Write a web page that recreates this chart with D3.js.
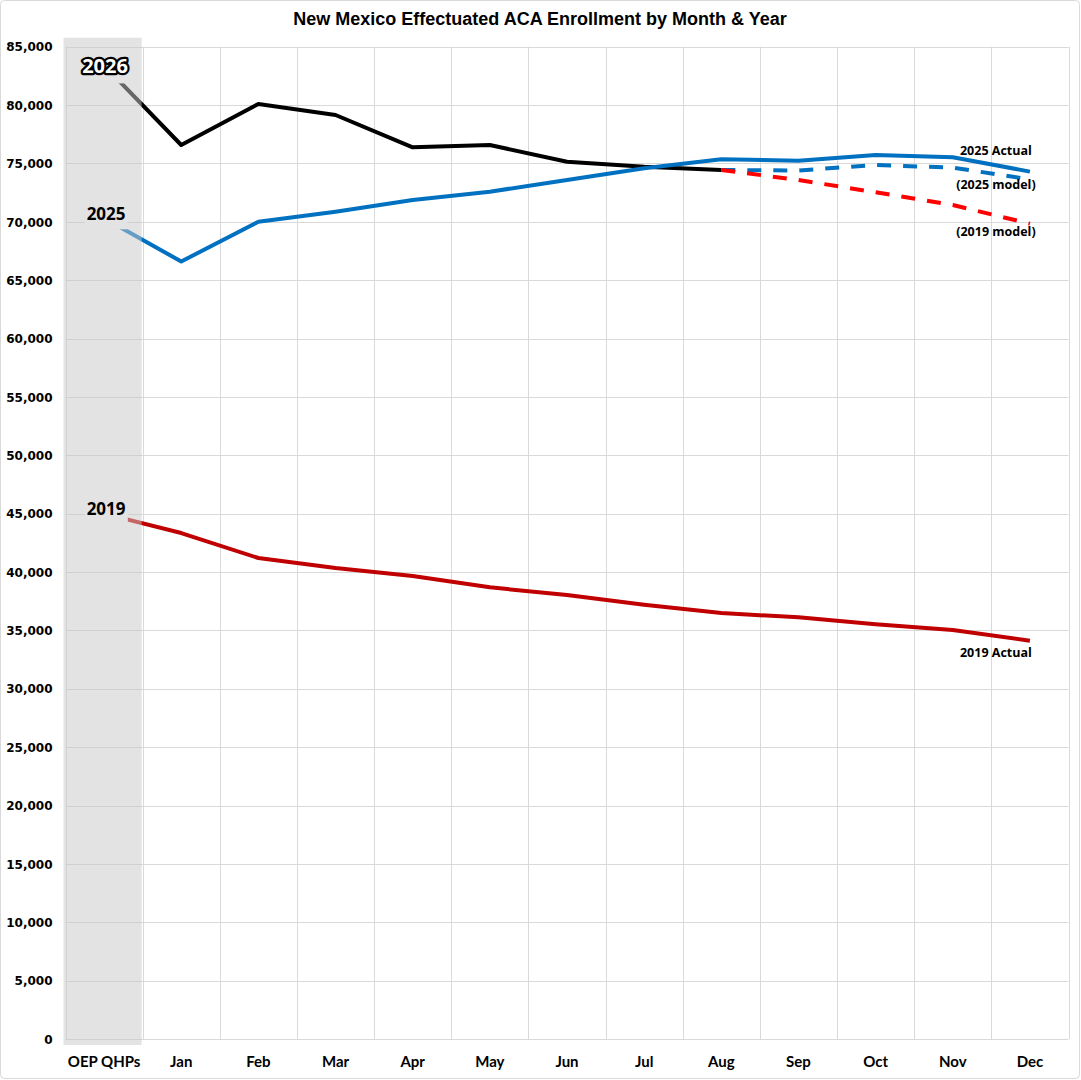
<!DOCTYPE html>
<html>
<head>
<meta charset="utf-8">
<script src="https://cdn.jsdelivr.net/npm/d3@7"></script>
<style>
  body { margin: 0; background: #fff; }
  svg { display: block; }
</style>
</head>
<body>
<svg id="chart" width="1081" height="1080"></svg>
<script>
// categories along the x axis
var months = ["OEP QHPs", "Jan", "Feb", "Mar", "Apr", "May", "Jun", "Jul", "Aug", "Sep", "Oct", "Nov", "Dec"]

// series values
var enroll2026 = [83400, 76580, 80100, 79150, 76380, 76580, 75150, 74720, 74440]
var enroll2025 = [70300, 66600, 70000, 70870, 71870, 72580, 73580, 74580, 75360, 75230, 75720, 75530, 74300]
var enroll2019 = [45000, 43340, 41200, 40350, 39660, 38690, 38030, 37200, 36490, 36120, 35520, 35040, 34120]
// projections starting at Aug
var modelMonths = ["Aug", "Sep", "Oct", "Nov", "Dec"]
var model2025 = [74440, 74400, 74870, 74640, 73640]
var model2019 = [74440, 73580, 72530, 71440, 69840]

var yTicks = d3.range(0, 85001, 5000)

var svg = d3.select("#chart")
var plotLeft = 65.5, plotRight = 1068.5, plotTop = 46.7, plotBottom = 1039

var x = d3.scaleBand().domain(months).range([plotLeft, plotRight]).padding(0)
var y = d3.scaleLinear().domain([0, 85000]).range([plotBottom, plotTop])
var cx = function(m) { return x(m) + x.bandwidth() / 2 }

// outer frame
svg.append("rect")
    .attr("x", 0.5).attr("y", 0.5)
    .attr("width", 1079).attr("height", 1078)
    .attr("rx", 4)
    .attr("fill", "#fff")
    .attr("stroke", "#d9d9d9")

// title
svg.append("text")
    .text("New Mexico Effectuated ACA Enrollment by Month & Year")
    .attr("x", 540).attr("y", 25)
    .attr("text-anchor", "middle")
    .style("font-family", "Liberation Sans, Arial, sans-serif")
    .style("font-weight", "bold")
    .style("font-size", "18px")

// horizontal gridlines
svg.append("g").selectAll("line")
    .data(yTicks)
    .enter().append("line")
    .attr("x1", plotLeft).attr("x2", plotRight)
    .attr("y1", function(d) { return Math.round(y(d)) + 0.5 })
    .attr("y2", function(d) { return Math.round(y(d)) + 0.5 })
    .attr("stroke", "#d9d9d9")

// vertical gridlines at category boundaries
svg.append("g").selectAll("line")
    .data(months.concat(["end"]))
    .enter().append("line")
    .attr("x1", function(d, i) { return Math.round(plotLeft + i * x.bandwidth()) + 0.5 })
    .attr("x2", function(d, i) { return Math.round(plotLeft + i * x.bandwidth()) + 0.5 })
    .attr("y1", plotTop).attr("y2", plotBottom)
    .attr("stroke", "#d9d9d9")

// y axis labels
var yAxis = svg.append("g")
    .attr("transform", "translate(" + (plotLeft - 13) + ",0)")
    .call(d3.axisLeft(y).tickValues(yTicks).tickFormat(d3.format(",")).tickSize(0).tickPadding(0))
yAxis.select(".domain").remove()
yAxis.selectAll("text")
    .attr("dy", "0.35em")
    .style("font-family", "DejaVu Sans, sans-serif")
    .style("font-weight", "bold")
    .style("font-size", "12px")
    .attr("fill", "#000")

// x axis labels
var xAxis = svg.append("g")
    .attr("transform", "translate(0," + (plotBottom + 17) + ")")
    .call(d3.axisBottom(x).tickSize(0).tickPadding(0))
xAxis.select(".domain").remove()
xAxis.selectAll("text")
    .attr("dy", "0.71em")
    .style("font-family", "Lato, sans-serif")
    .style("font-weight", "bold")
    .style("font-size", "15px")
    .attr("fill", "#000")

var line = d3.line()
    .x(function(d) { return cx(d.m) })
    .y(function(d) { return y(d.v) })

function series(vals, cats) {
    return vals.map(function(v, i) { return { m: cats[i], v: v } })
}

function drawLine(data, color, dashed) {
    svg.append("path")
        .datum(data)
        .attr("d", line)
        .attr("fill", "none")
        .attr("stroke", color)
        .attr("stroke-width", 4)
        .attr("stroke-linejoin", "round")
        .attr("stroke-dasharray", dashed ? "14,12" : null)
}

drawLine(series(enroll2019, months), "#c00000", false)
drawLine(series(enroll2026, months), "#000000", false)
drawLine(series(enroll2025, months), "#0070c0", false)
drawLine(series(model2025, modelMonths), "#0070c0", true)
drawLine(series(model2019, modelMonths), "#ff0000", true)

// shaded OEP band (translucent, lines show lighter through it)
svg.append("rect")
    .attr("x", x("OEP QHPs") - 2)
    .attr("y", plotTop - 9)
    .attr("width", x.bandwidth() + 1)
    .attr("height", plotBottom - plotTop + 15)
    .attr("fill", "rgb(200,200,200)")
    .attr("fill-opacity", 0.51)

// year labels on the band
function yearLabel(txt, val, size, dy, dx, halo) {
    var g = svg.append("g")
    var t = g.append("text")
        .text(txt)
        .attr("x", cx("OEP QHPs") + dx)
        .attr("y", y(val) + dy)
        .attr("text-anchor", "middle")
        .style("font-family", "Open Sans, sans-serif")
        .style("font-weight", "bold")
        .style("font-size", size + "px")
    var b = t.node().getBBox()
    g.insert("rect", "text")
        .attr("x", b.x - 2).attr("y", b.y + 2)
        .attr("width", b.width + 4).attr("height", b.height + 2)
        .attr("fill", "#e3e3e3")
    if (halo) {
        t.attr("fill", "#fff")
            .attr("stroke", "#000")
            .attr("stroke-width", 4.5)
            .attr("stroke-linejoin", "round")
            .style("paint-order", "stroke")
    }
}

yearLabel("2026", 83400, 20, 8, 1, true)
yearLabel("2025", 70300, 17, 2, 2, false)
yearLabel("2019", 45000, 17, 1, 2, false)

// series notes at the right
var notes = [
    { t: "2025 Actual", v: 75400, dy: -4 },
    { t: "(2025 model)", v: 73640, dy: 10 },
    { t: "(2019 model)", v: 69840, dy: 12 },
    { t: "2019 Actual", v: 34120, dy: 16 }
]
svg.append("g").selectAll("text")
    .data(notes)
    .enter().append("text")
    .text(function(d) { return d.t })
    .attr("x", cx("Dec") - 34)
    .attr("y", function(d) { return y(d.v) + d.dy })
    .attr("text-anchor", "middle")
    .style("font-family", "Open Sans, sans-serif")
    .style("font-weight", "bold")
    .style("font-size", "12.5px")
</script>
</body>
</html>
